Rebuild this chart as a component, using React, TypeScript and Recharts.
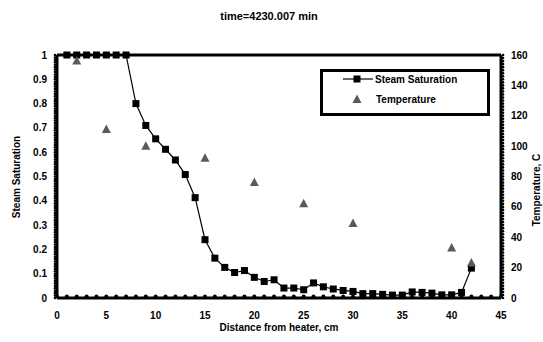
import { ComposedChart, Line, Scatter, XAxis, YAxis, ReferenceLine } from "recharts";

const distance = [
  1, 2, 3, 4, 5, 6, 7, 8, 9, 10, 11, 12, 13, 14, 15, 16, 17, 18, 19, 20, 21,
  22, 23, 24, 25, 26, 27, 28, 29, 30, 31, 32, 33, 34, 35, 36, 37, 38, 39, 40, 41, 42,
];
const saturation = [
  1, 1, 1, 1, 1, 1, 1, 0.8, 0.71, 0.655, 0.612, 0.568, 0.508, 0.413, 0.24, 0.164,
  0.126, 0.105, 0.113, 0.085, 0.068, 0.075, 0.041, 0.041, 0.034, 0.062, 0.046,
  0.037, 0.031, 0.027, 0.018, 0.018, 0.015, 0.012, 0.012, 0.025, 0.023, 0.02,
  0.013, 0.013, 0.023, 0.123,
];
const tempDistance = [2, 5, 9, 15, 20, 25, 30, 40, 42];
const temperature = [156, 111, 100, 92, 76, 62, 49, 33, 23];

const xTicks = Array.from({ length: 46 }, (_, i) => i);
const leftTicks = Array.from({ length: 101 }, (_, i) => i / 100);
const rightTicks = Array.from({ length: 81 }, (_, i) => i * 2);

const satData = distance.map((x, i) => ({ x, s: saturation[i] }));
const tempData = tempDistance.map((x, i) => ({ x, t: temperature[i] }));

const FONT = "'Liberation Sans', Arial, sans-serif";
const TRI = "#5a5a5a";

const XTick = (props: any) => {
  const { x, y, payload } = props;
  const axisY = y - 14;
  const v = payload.value;
  return (
    <g>
      <circle cx={x} cy={axisY - 1.5} r={2} fill="#000" />
      {v % 5 === 0 && (
        <text x={x} y={y} dy="0.71em" textAnchor="middle" fontSize={10} fontWeight="bold" fill="#000">
          {v}
        </text>
      )}
    </g>
  );
};

const LeftTick = (props: any) => {
  const { x, y, payload } = props;
  const axisX = x + 10;
  const i = Math.round(payload.value * 100);
  return (
    <g>
      <circle cx={axisX - 2} cy={y} r={1.3} fill="#000" />
      {i % 10 === 0 && (
        <text x={x} y={y} dy="0.355em" textAnchor="end" fontSize={10} fontWeight="bold" fill="#000">
          {i / 100}
        </text>
      )}
    </g>
  );
};

const RightTick = (props: any) => {
  const { x, y, payload } = props;
  const axisX = x - 10;
  const v = payload.value;
  return (
    <g>
      <circle cx={axisX + 2} cy={y} r={1.3} fill="#000" />
      {v % 20 === 0 && (
        <text x={x} y={y} dy="0.355em" textAnchor="start" fontSize={10} fontWeight="bold" fill="#000">
          {v}
        </text>
      )}
    </g>
  );
};

const SquareDot = (props: any) => {
  const { cx, cy, index } = props;
  return <rect key={`sq-${index}`} x={cx - 3.5} y={cy - 3.5} width={7} height={7} fill="#000" />;
};

const Triangle = (props: any) => {
  const { cx, cy } = props;
  return <polygon points={`${cx},${cy - 5} ${cx - 4.5},${cy + 3.5} ${cx + 4.5},${cy + 3.5}`} fill={TRI} />;
};

export default function App() {
  return (
    <div style={{ position: "absolute", left: 0, top: 0, width: 543, height: 342, background: "#fff" }}>
      <ComposedChart
        width={543}
        height={342}
        margin={{ top: 55, right: 0, bottom: 0, left: 0 }}
        style={{ fontFamily: FONT }}
      >
        <XAxis
          type="number"
          dataKey="x"
          domain={[0, 45]}
          ticks={xTicks}
          interval={0}
          height={44}
          tickSize={4}
          tickMargin={10}
          tickLine={false}
          axisLine={{ stroke: "#000", strokeWidth: 3 }}
          tick={<XTick />}
        />
        <YAxis
          yAxisId="left"
          dataKey="s"
          type="number"
          domain={[0, 1]}
          ticks={leftTicks}
          interval={0}
          width={57}
          tickSize={4}
          tickMargin={6}
          tickLine={false}
          axisLine={{ stroke: "#000", strokeWidth: 3 }}
          tick={<LeftTick />}
        />
        <YAxis
          yAxisId="right"
          orientation="right"
          dataKey="t"
          type="number"
          domain={[0, 160]}
          ticks={rightTicks}
          interval={0}
          width={42}
          tickSize={4}
          tickMargin={6}
          tickLine={false}
          axisLine={{ stroke: "#000", strokeWidth: 3 }}
          tick={<RightTick />}
        />
        <ReferenceLine yAxisId="left" y={1} stroke="#000" strokeWidth={3} />
        <Line
          data={satData}
          dataKey="s"
          yAxisId="left"
          stroke="#000"
          strokeWidth={1.2}
          dot={SquareDot}
          activeDot={false}
          isAnimationActive={false}
        />
        <Scatter
          data={tempData}
          dataKey="t"
          yAxisId="right"
          shape={Triangle}
          fill={TRI}
          isAnimationActive={false}
        />
        <text x={269} y={20} textAnchor="middle" fontSize={11} fontWeight="bold" fill="#000">
          time=4230.007 min
        </text>
        <text x={279} y={331} textAnchor="middle" fontSize={10} fontWeight="bold" fill="#000">
          Distance from heater, cm
        </text>
        <text
          x={16}
          y={177}
          textAnchor="middle"
          dy="0.355em"
          transform="rotate(-90 16 177)"
          fontSize={10}
          fontWeight="bold"
          fill="#000"
        >
          Steam Saturation
        </text>
        <text
          x={536}
          y={190}
          textAnchor="middle"
          dy="0.355em"
          transform="rotate(-90 536 190)"
          fontSize={10}
          fontWeight="bold"
          fill="#000"
        >
          Temperature, C
        </text>
      </ComposedChart>
      <svg
        width={170}
        height={47}
        style={{ position: "absolute", left: 320, top: 69, fontFamily: FONT }}
      >
        <rect x={1.5} y={1.5} width={167} height={44} fill="#fff" stroke="#000" strokeWidth={3} />
        <line x1={23} y1={10} x2={53} y2={10} stroke="#000" strokeWidth={1.2} />
        <rect x={33.5} y={6.5} width={7} height={7} fill="#000" />
        <text x={55} y={13.5} fontSize={10} fontWeight="bold" fill="#000">
          Steam Saturation
        </text>
        <polygon points="37,25.5 32.5,34 41.5,34" fill={TRI} />
        <text x={56} y={34} fontSize={10} fontWeight="bold" fill="#000">
          Temperature
        </text>
      </svg>
    </div>
  );
}
